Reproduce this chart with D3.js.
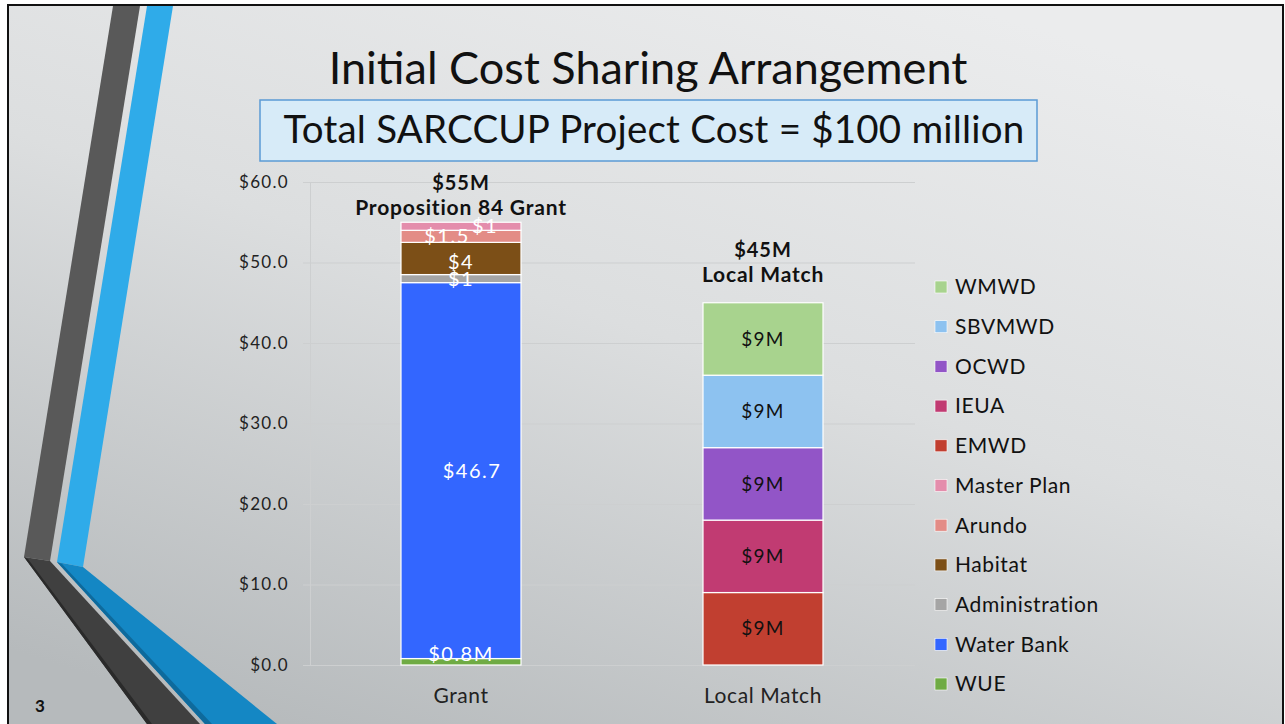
<!DOCTYPE html>
<html>
<head>
<meta charset="utf-8">
<script src="https://cdn.jsdelivr.net/npm/d3@7"></script>
<style>
  html, body { margin: 0; padding: 0; overflow: hidden; }
  body { width: 1285px; height: 724px; }
  text { font-family: Lato, "Open Sans", sans-serif; }
</style>
</head>
<body>
<div id="canvas"></div>
<script>
// chart data
var categories = ['Grant', 'Local Match']
var seriesNames = ['WUE', 'Water Bank', 'Administration', 'Habitat', 'Arundo', 'Master Plan',
  'EMWD', 'IEUA', 'OCWD', 'SBVMWD', 'WMWD']
var grantValues = [0.8, 46.7, 1, 4, 1.5, 1, 0, 0, 0, 0, 0]
var localValues = [0, 0, 0, 0, 0, 0, 9, 9, 9, 9, 9]
var grantLabels = ['$0.8M', '$46.7', '$1', '$4', '$1.5', '$1', '', '', '', '', '']
var localLabels = ['', '', '', '', '', '', '$9M', '$9M', '$9M', '$9M', '$9M']
var seriesColors = ['#6fab44', '#3366ff', '#a5a5a5', '#7c4f17', '#e38c86', '#e48dac',
  '#c13f30', '#c13b72', '#9255c7', '#8dc2f0', '#a8d38e']
var yTicks = [0, 10, 20, 30, 40, 50, 60]
var totals = ['$55M', '$45M']
var totalCaptions = ['Proposition 84 Grant', 'Local Match']

;(function () {
  var W = 1285, H = 724

  var svg = d3.select('#canvas').append('svg')
    .attr('width', W).attr('height', H)

  // slide background
  var defs = svg.append('defs')
  var bg = defs.append('linearGradient').attr('id', 'bg')
    .attr('x1', '0.75').attr('y1', '0').attr('x2', '0.2').attr('y2', '1')
  bg.append('stop').attr('offset', '0').attr('stop-color', '#ebeced')
  bg.append('stop').attr('offset', '0.45').attr('stop-color', '#dcdedf')
  bg.append('stop').attr('offset', '1').attr('stop-color', '#b6babc')
  svg.append('rect').attr('width', W).attr('height', H).attr('fill', '#ffffff')
  svg.append('rect').attr('x', 8).attr('y', 5).attr('width', W - 10).attr('height', H)
    .attr('fill', 'url(#bg)').attr('stroke', '#111').attr('stroke-width', 2)

  // decorative stripes on the left
  var deco = svg.append('g')
  deco.append('polygon').attr('points', '113,6 140,6 50,561 24,557').attr('fill', '#595959')
  deco.append('polygon').attr('points', '147,6 173,6 83,567 57,562').attr('fill', '#2fabe9')
  deco.append('polygon').attr('points', '24,557 50,561 200,724 147,724').attr('fill', '#404040')
  deco.append('polygon').attr('points', '24,557 28,559 152,724 147,724').attr('fill', '#2a2a2a')
  deco.append('polygon').attr('points', '57,562 83,567 277,724 205,724').attr('fill', '#1487c4')
  deco.append('polygon').attr('points', '57,562 62,564 212,724 205,724').attr('fill', '#0e6a9c')

  svg.append('text').attr('x', 40).attr('y', 712).attr('text-anchor', 'middle')
    .attr('font-size', 17).attr('font-weight', 'bold').attr('fill', '#111').text('3')

  // title and subtitle box
  svg.append('text').attr('x', 648).attr('y', 84).attr('text-anchor', 'middle')
    .attr('font-size', 45).attr('fill', '#111').text('Initial Cost Sharing Arrangement')
  svg.append('rect').attr('x', 260).attr('y', 100).attr('width', 777).attr('height', 61)
    .attr('fill', '#d7ebf8').attr('stroke', '#5b9bd5').attr('stroke-width', 1.5)
  svg.append('text').attr('x', 654).attr('y', 143).attr('text-anchor', 'middle')
    .attr('font-size', 38.5).attr('fill', '#111').attr('letter-spacing', 0.2)
    .text('Total SARCCUP Project Cost = $100 million')

  // scales
  var y = d3.scaleLinear().domain([0, 60]).range([665, 182])
  var x = d3.scalePoint().domain(categories).range([461, 763])
  var barW = 120

  // grid
  svg.append('g').selectAll('line').data(yTicks).enter().append('line')
    .attr('x1', 303).attr('x2', 915)
    .attr('y1', function (d) { return y(d) + 0.5 }).attr('y2', function (d) { return y(d) + 0.5 })
    .attr('stroke', '#cdcfd0').attr('stroke-width', 1)
  svg.append('line').attr('x1', 310.5).attr('x2', 310.5).attr('y1', y(60)).attr('y2', y(0))
    .attr('stroke', '#cdcfd0')

  var yAxis = svg.append('g').attr('transform', 'translate(289,0)')
    .call(d3.axisLeft(y).tickValues(yTicks).tickSize(0).tickPadding(0)
      .tickFormat(function (d) { return '$' + d3.format('.1f')(d) }))
  yAxis.select('.domain').remove()
  yAxis.selectAll('text').attr('font-size', 17).attr('fill', '#222')
    .attr('letter-spacing', 1.3).attr('font-family', 'Lato, sans-serif')

  // stacked data
  var rows = categories.map(function (c, i) {
    var r = { category: c }
    var vals = i === 0 ? grantValues : localValues
    seriesNames.forEach(function (s, j) { r[s] = vals[j] })
    return r
  })
  var stacked = d3.stack().keys(seriesNames)(rows)

  var layers = svg.append('g').selectAll('g').data(stacked).enter().append('g')
    .attr('fill', function (d, i) { return seriesColors[i] })
  layers.selectAll('rect').data(function (d) { return d.filter(function (p) { return p[1] > p[0] }) })
    .enter().append('rect')
    .attr('x', function (d) { return x(d.data.category) - barW / 2 })
    .attr('width', barW)
    .attr('y', function (d) { return y(d[1]) })
    .attr('height', function (d) { return y(d[0]) - y(d[1]) })
    .attr('stroke', '#ffffff').attr('stroke-width', 1.2)

  // segment labels
  var labelShift = { 'Master Plan': 24, 'Arundo': -14, 'Water Bank': 11 }
  stacked.forEach(function (layer, j) {
    layer.forEach(function (p, i) {
      var txt = i === 0 ? grantLabels[j] : localLabels[j]
      if (!txt) return
      var name = seriesNames[j]
      var mid = (y(p[0]) + y(p[1])) / 2
      if (name === 'WUE') mid = y(p[1]) - 5
      if (name === 'Habitat') mid += 4
      svg.append('text')
        .attr('x', x(p.data.category) + (labelShift[name] || 0))
        .attr('y', mid).attr('dy', '0.35em').attr('text-anchor', 'middle')
        .attr('font-size', i === 0 ? 20 : 19)
        .attr('letter-spacing', i === 0 ? 1.5 : 1.2)
        .attr('fill', i === 0 ? '#ffffff' : '#111')
        .text(txt)
    })
  })

  // totals above bars
  var captionGap = [7, 21]
  categories.forEach(function (c, i) {
    var top = d3.sum(i === 0 ? grantValues : localValues)
    var yy = y(top) - captionGap[i]
    svg.append('text').attr('x', x(c)).attr('y', yy - 25).attr('text-anchor', 'middle')
      .attr('font-size', 20).attr('font-weight', 'bold').attr('letter-spacing', 1)
      .attr('fill', '#111').text(totals[i])
    svg.append('text').attr('x', x(c)).attr('y', yy).attr('text-anchor', 'middle')
      .attr('font-size', 21).attr('font-weight', 'bold').attr('letter-spacing', 0.8)
      .attr('fill', '#111').text(totalCaptions[i])
    svg.append('text').attr('x', x(c)).attr('y', 703).attr('text-anchor', 'middle')
      .attr('font-size', 21).attr('letter-spacing', 0.6).attr('fill', '#222').text(c)
  })

  // legend
  var legendItems = seriesNames.map(function (s, i) { return { name: s, color: seriesColors[i] } }).reverse()
  var leg = svg.append('g').selectAll('g').data(legendItems).enter().append('g')
    .attr('transform', function (d, i) { return 'translate(935,' + (287 + i * 39.7) + ')' })
  leg.append('rect').attr('x', 0).attr('y', -6).attr('width', 12).attr('height', 12)
    .attr('fill', function (d) { return d.color }).attr('stroke', '#fff').attr('stroke-width', 0.6)
  leg.append('text').attr('x', 20).attr('dy', '0.35em').attr('font-size', 21)
    .attr('letter-spacing', 0.6).attr('fill', '#111')
    .text(function (d) { return d.name })
})()
</script>
</body>
</html>
